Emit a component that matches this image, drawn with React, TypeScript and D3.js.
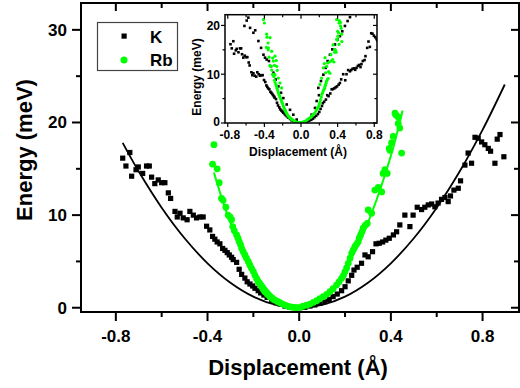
import React from 'react';
import * as d3 from 'd3';

// ---- Main panel: K data (black squares)
const kX = [-0.770,-0.756,-0.739,-0.731,-0.712,-0.702,-0.683,-0.666,-0.654,-0.644,-0.630,-0.615,-0.600,-0.586,-0.571,-0.561,-0.542,-0.532,-0.520,-0.506,-0.489,-0.477,-0.462,-0.448,-0.433,-0.419,-0.404,-0.390,-0.378,-0.368,-0.358,-0.346,-0.334,-0.324,-0.314,-0.305,-0.295,-0.288,-0.273,-0.262,-0.251,-0.237,-0.227,-0.215,-0.203,-0.193,-0.179,-0.168,-0.154,-0.140,-0.120,-0.102,-0.084,-0.062,-0.040,-0.019,0.003,0.025,0.047,0.068,0.090,0.112,0.131,0.148,0.166,0.185,0.200,0.214,0.229,0.239,0.253,0.272,0.287,0.301,0.320,0.335,0.349,0.364,0.378,0.393,0.411,0.425,0.439,0.461,0.483,0.497,0.515,0.534,0.548,0.563,0.578,0.592,0.606,0.621,0.636,0.650,0.660,0.675,0.694,0.704,0.723,0.737,0.752,0.767,0.781,0.796,0.810,0.825,0.835,0.854,0.864,0.876,0.893];
const kY = [16.15,15.3,16.76,14.2,14.9,15.2,14.5,15.3,15.3,14.1,13.4,13.8,13.5,13.5,12.4,11.8,10.4,9.8,10.2,9.7,9.5,10.4,10.0,9.7,9.8,9.8,8.8,8.4,7.7,7.4,7.1,6.9,6.4,6.2,5.95,5.7,5.45,5.2,4.9,4.15,3.6,3.2,2.8,2.56,2.35,2.1,1.84,1.6,1.37,1.12,0.83,0.54,0.4,0.18,0.04,0.0,0.0,0.05,0.18,0.3,0.47,0.65,0.9,1.2,1.48,1.84,2.27,2.9,3.5,4.07,4.37,4.8,5.7,5.5,6.05,6.9,6.96,7.1,7.3,7.5,7.86,8.2,8.94,10.0,8.76,10.0,10.85,10.6,10.85,11.1,11.2,10.9,11.3,11.7,11.9,11.46,12.07,12.7,12.9,13.7,15.4,16.7,15.6,18.4,18.3,17.9,17.6,17.2,16.9,15.6,18.2,18.7,16.3];

// ---- Main panel: Rb data (green circles)
const rbX = [-0.372,-0.378,-0.358,-0.349,-0.339,-0.332,-0.320,-0.310,-0.302,-0.295,-0.290,-0.283,-0.273,-0.267,-0.262,-0.256,-0.251,-0.244,-0.237,-0.230,-0.222,-0.215,-0.208,-0.200,-0.193,-0.186,-0.179,-0.171,-0.164,-0.157,-0.150,-0.139,-0.128,-0.117,-0.106,-0.095,-0.084,-0.073,-0.062,-0.051,-0.040,-0.030,-0.019,-0.008,0.005,0.017,0.032,0.047,0.062,0.076,0.090,0.105,0.120,0.134,0.148,0.163,0.174,0.185,0.193,0.200,0.207,0.214,0.222,0.229,0.236,0.243,0.250,0.257,0.262,0.268,0.274,0.279,0.288,0.297,0.301,0.316,0.330,0.345,0.360,0.366,0.374,0.384,0.393,0.396,0.403,0.410,0.418,0.422,0.432,0.432,0.439,0.447];
const rbY = [17.6,15.5,15.0,13.5,11.8,11.6,10.85,10.0,9.8,9.5,8.76,8.3,7.86,7.5,7.14,6.8,6.4,6.05,5.7,5.35,4.97,4.6,4.26,3.9,3.5,3.15,2.8,2.55,2.27,2.0,1.73,1.45,1.19,1.0,0.83,0.68,0.54,0.4,0.29,0.18,0.1,0.06,0.04,0.02,0.05,0.18,0.28,0.4,0.58,0.76,0.97,1.19,1.45,1.73,2.05,2.45,2.8,3.18,3.5,3.9,4.3,4.8,5.35,5.9,6.25,6.6,6.85,7.1,7.5,7.86,8.2,8.58,8.9,9.1,10.56,10.2,12.7,13.0,12.5,14.5,14.9,14.5,17.2,17.0,17.8,18.5,21.0,20.8,20.6,19.9,19.4,16.7];

// ---- Fit curves
const fitKX = [-0.77,-0.7,-0.6,-0.5,-0.4,-0.3,-0.2,-0.1,0,0.1,0.2,0.3,0.4,0.5,0.6,0.7,0.8,0.897];
const fitKY = [17.8,14.7,10.8,7.5,4.8,2.7,1.2,0.3,0,0.3,1.2,2.7,4.8,7.5,10.8,14.7,19.2,24.1];
const fitRbX = [-0.372,-0.3,-0.2,-0.1,0,0.1,0.2,0.3,0.4,0.451];
const fitRbY = [14.6,9.2,4.1,1.0,0,1.0,4.1,9.2,16.4,21.3];

// ---- Inset: extra points besides the main data
const insetKX = [-0.618,-0.593,-0.575,-0.556,-0.52,-0.50,-0.465,-0.436,-0.41,-0.393,-0.375,-0.35,-0.327,-0.302,-0.276,-0.247,-0.218,-0.193,-0.156,-0.12,-0.084,-0.047,0.116,0.153,0.171,0.196,0.189,0.218,0.244,0.269,0.291,0.316,0.342,0.371,0.40,0.425,0.451,0.48,0.509,0.535];
const insetKY = [19.9,21.0,21.6,19.5,18.5,19.0,16.8,15.4,14.0,13.4,13.0,12.7,11.6,10.3,8.9,7.5,6.2,5.1,3.8,2.7,1.7,0.7,1.7,3.1,4.5,5.7,7.2,8.6,9.9,11.3,12.7,14.0,15.1,16.1,17.1,17.8,18.8,19.9,20.9,21.7];
const insetRbX = [-0.41,-0.40,-0.375,-0.338,-0.36,-0.356,-0.32,-0.284,-0.302,-0.265,-0.284,-0.247,-0.229,-0.211,-0.26,-0.29,-0.27,-0.31,0.389,0.415,0.40,0.444,0.389,0.415,0.371,0.327,0.262,0.291,0.244,0.269,0.225,0.207,0.35,0.31,0.28,0.255];
const insetRbY = [21.2,20.5,18.2,17.5,16.4,15.4,14.7,13.7,12.7,11.6,9.9,9.2,8.2,7.2,10.8,11.8,12.8,13.3,21.2,20.5,18.8,18.2,17.1,16.1,15.1,14.0,13.4,12.3,11.3,10.3,9.2,7.9,16.0,12.5,11.6,12.2];

// ---- Ticks
const xMajor = [-0.8, -0.4, 0, 0.4, 0.8];
const xMinor = [-0.6, -0.2, 0.2, 0.6];
const yMajor = [0, 10, 20, 30];
const yMinor = [5, 15, 25];
const inYMajor = [0, 10, 20];
const inYMinor = [5, 15];
const xLabels = ['-0.8', '-0.4', '0.0', '0.4', '0.8'];
const legendNames = ['K', 'Rb'];

const FONT = "'Liberation Sans', Arial, sans-serif";
const GREEN = '#00ff00';

export default function App() {
  const x = d3.scaleLinear().domain([-0.952, 0.959]).range([81, 519]);
  const y = d3.scaleLinear().domain([-0.46, 32.9]).range([312, 3]);
  const ix = d3.scaleLinear().domain([-0.83, 0.83]).range([225, 377]);
  const iy = d3.scaleLinear().domain([0, 22.2]).range([123, 14.7]);

  const lineK = d3.line<number>().x((_, i) => x(fitKX[i])).y((d) => y(d)).curve(d3.curveCatmullRom);
  const lineRb = d3.line<number>().x((_, i) => x(fitRbX[i])).y((d) => y(d)).curve(d3.curveCatmullRom);

  const [x0, x1] = x.range();
  const [yb, yt] = y.range();
  const [ix0, ix1] = ix.range();
  const [iyb, iyt] = iy.range();

  const allInKX = [...kX, ...insetKX];
  const allInKY = [...kY, ...insetKY];
  const allInRbX = [...rbX, ...insetRbX];
  const allInRbY = [...rbY, ...insetRbY];

  return (
    <div style={{ position: 'absolute', left: 0, top: 0 }}>
      <svg width={520} height={388} style={{ display: 'block', background: '#fff' }} fontFamily={FONT}>
        <defs>
          <clipPath id="insetClip">
            <rect x={ix0} y={iyt} width={ix1 - ix0} height={iyb - iyt} />
          </clipPath>
        </defs>
        <rect x={0} y={0} width={520} height={388} fill="#fff" />

        {/* fit lines and data */}
        <path d={lineK(fitKY) || ''} fill="none" stroke="#000" strokeWidth={1.8} />
        {kX.map((v, i) => (
          <rect key={'k' + i} x={x(v) - 2.6} y={y(kY[i]) - 2.6} width={5.2} height={5.2} fill="#000" />
        ))}
        {rbX.map((v, i) => (
          <circle key={'r' + i} cx={x(v)} cy={y(rbY[i])} r={3.4} fill={GREEN} />
        ))}
        <path d={lineRb(fitRbY) || ''} fill="none" stroke={GREEN} strokeWidth={2} />

        {/* main ticks */}
        {xMajor.map((t) => (
          <g key={'xm' + t}>
            <line x1={x(t)} x2={x(t)} y1={yb} y2={yb + 9} stroke="#000" strokeWidth={2} />
            <line x1={x(t)} x2={x(t)} y1={yt} y2={yt + 8} stroke="#000" strokeWidth={2} />
          </g>
        ))}
        {xMinor.map((t) => (
          <g key={'xn' + t}>
            <line x1={x(t)} x2={x(t)} y1={yb} y2={yb + 5} stroke="#000" strokeWidth={2} />
            <line x1={x(t)} x2={x(t)} y1={yt} y2={yt + 5} stroke="#000" strokeWidth={2} />
          </g>
        ))}
        {yMajor.map((t) => (
          <g key={'ym' + t}>
            <line x1={x0 - 9} x2={x0} y1={y(t)} y2={y(t)} stroke="#000" strokeWidth={2} />
            <line x1={x1 - 8} x2={x1} y1={y(t)} y2={y(t)} stroke="#000" strokeWidth={2} />
          </g>
        ))}
        {yMinor.map((t) => (
          <g key={'yn' + t}>
            <line x1={x0 - 5} x2={x0} y1={y(t)} y2={y(t)} stroke="#000" strokeWidth={2} />
            <line x1={x1 - 5} x2={x1} y1={y(t)} y2={y(t)} stroke="#000" strokeWidth={2} />
          </g>
        ))}
        <rect x={x0} y={yt} width={x1 - x0} height={yb - yt} fill="none" stroke="#000" strokeWidth={2} />

        {/* main tick labels */}
        {xMajor.map((t, i) => (
          <text key={'xl' + t} x={x(t)} y={342} textAnchor="middle" fontSize={17} fontWeight="bold">{xLabels[i]}</text>
        ))}
        {yMajor.map((t) => (
          <text key={'yl' + t} x={67} y={y(t) + 6} textAnchor="end" fontSize={17} fontWeight="bold">{t}</text>
        ))}
        <text x={298} y={375} textAnchor="middle" fontSize={22} fontWeight="bold">Displacement (Å)</text>
        <text transform="translate(32,150) rotate(-90)" textAnchor="middle" fontSize={22} fontWeight="bold">Energy (meV)</text>

        {/* legend */}
        <rect x={97.5} y={22.5} width={80} height={48} fill="#fff" stroke="#444" strokeWidth={1.2} />
        <rect x={121.5} y={33.5} width={5.2} height={5.2} fill="#000" />
        <circle cx={124} cy={60} r={3.5} fill={GREEN} />
        <text x={150} y={42.5} fontSize={17} fontWeight="bold">{legendNames[0]}</text>
        <text x={150} y={65.5} fontSize={17} fontWeight="bold">{legendNames[1]}</text>

        {/* inset */}
        <rect x={ix0} y={iyt} width={ix1 - ix0} height={iyb - iyt} fill="#fff" />
        <g clipPath="url(#insetClip)">
          {allInKX.map((v, i) => (
            <rect key={'ik' + i} x={ix(v) - 1.3} y={iy(allInKY[i]) - 1.3} width={2.6} height={2.6} fill="#000" />
          ))}
          {allInRbX.map((v, i) => (
            <circle key={'ir' + i} cx={ix(v)} cy={iy(allInRbY[i])} r={1.6} fill={GREEN} />
          ))}
        </g>
        {xMajor.map((t) => (
          <g key={'ixm' + t}>
            <line x1={ix(t)} x2={ix(t)} y1={iyb} y2={iyb + 4} stroke="#000" strokeWidth={1.2} />
            <line x1={ix(t)} x2={ix(t)} y1={iyt} y2={iyt + 4} stroke="#000" strokeWidth={1.2} />
          </g>
        ))}
        {xMinor.map((t) => (
          <g key={'ixn' + t}>
            <line x1={ix(t)} x2={ix(t)} y1={iyb} y2={iyb + 2.5} stroke="#000" strokeWidth={1.2} />
            <line x1={ix(t)} x2={ix(t)} y1={iyt} y2={iyt + 2.5} stroke="#000" strokeWidth={1.2} />
          </g>
        ))}
        {inYMajor.map((t) => (
          <g key={'iym' + t}>
            <line x1={ix0 - 4} x2={ix0} y1={iy(t)} y2={iy(t)} stroke="#000" strokeWidth={1.2} />
            <line x1={ix1 - 4} x2={ix1} y1={iy(t)} y2={iy(t)} stroke="#000" strokeWidth={1.2} />
          </g>
        ))}
        {inYMinor.map((t) => (
          <g key={'iyn' + t}>
            <line x1={ix0 - 2.5} x2={ix0} y1={iy(t)} y2={iy(t)} stroke="#000" strokeWidth={1.2} />
            <line x1={ix1 - 2.5} x2={ix1} y1={iy(t)} y2={iy(t)} stroke="#000" strokeWidth={1.2} />
          </g>
        ))}
        <rect x={ix0} y={iyt} width={ix1 - ix0} height={iyb - iyt} fill="none" stroke="#000" strokeWidth={1.5} />
        {xMajor.map((t, i) => (
          <text key={'ixl' + t} x={ix(t) + (i === 0 ? 2 : 0)} y={138.5} textAnchor="middle" fontSize={12} fontWeight="bold">{xLabels[i]}</text>
        ))}
        {inYMajor.map((t) => (
          <text key={'iyl' + t} x={220} y={iy(t) + (t === 0 ? 2.5 : 4.3)} textAnchor="end" fontSize={12} fontWeight="bold">{t}</text>
        ))}
        <text x={298} y={155.5} textAnchor="middle" fontSize={12} fontWeight="bold">Displacement (Å)</text>
        <text transform="translate(201,77) rotate(-90)" textAnchor="middle" fontSize={12} fontWeight="bold">Energy (meV)</text>
      </svg>
    </div>
  );
}
